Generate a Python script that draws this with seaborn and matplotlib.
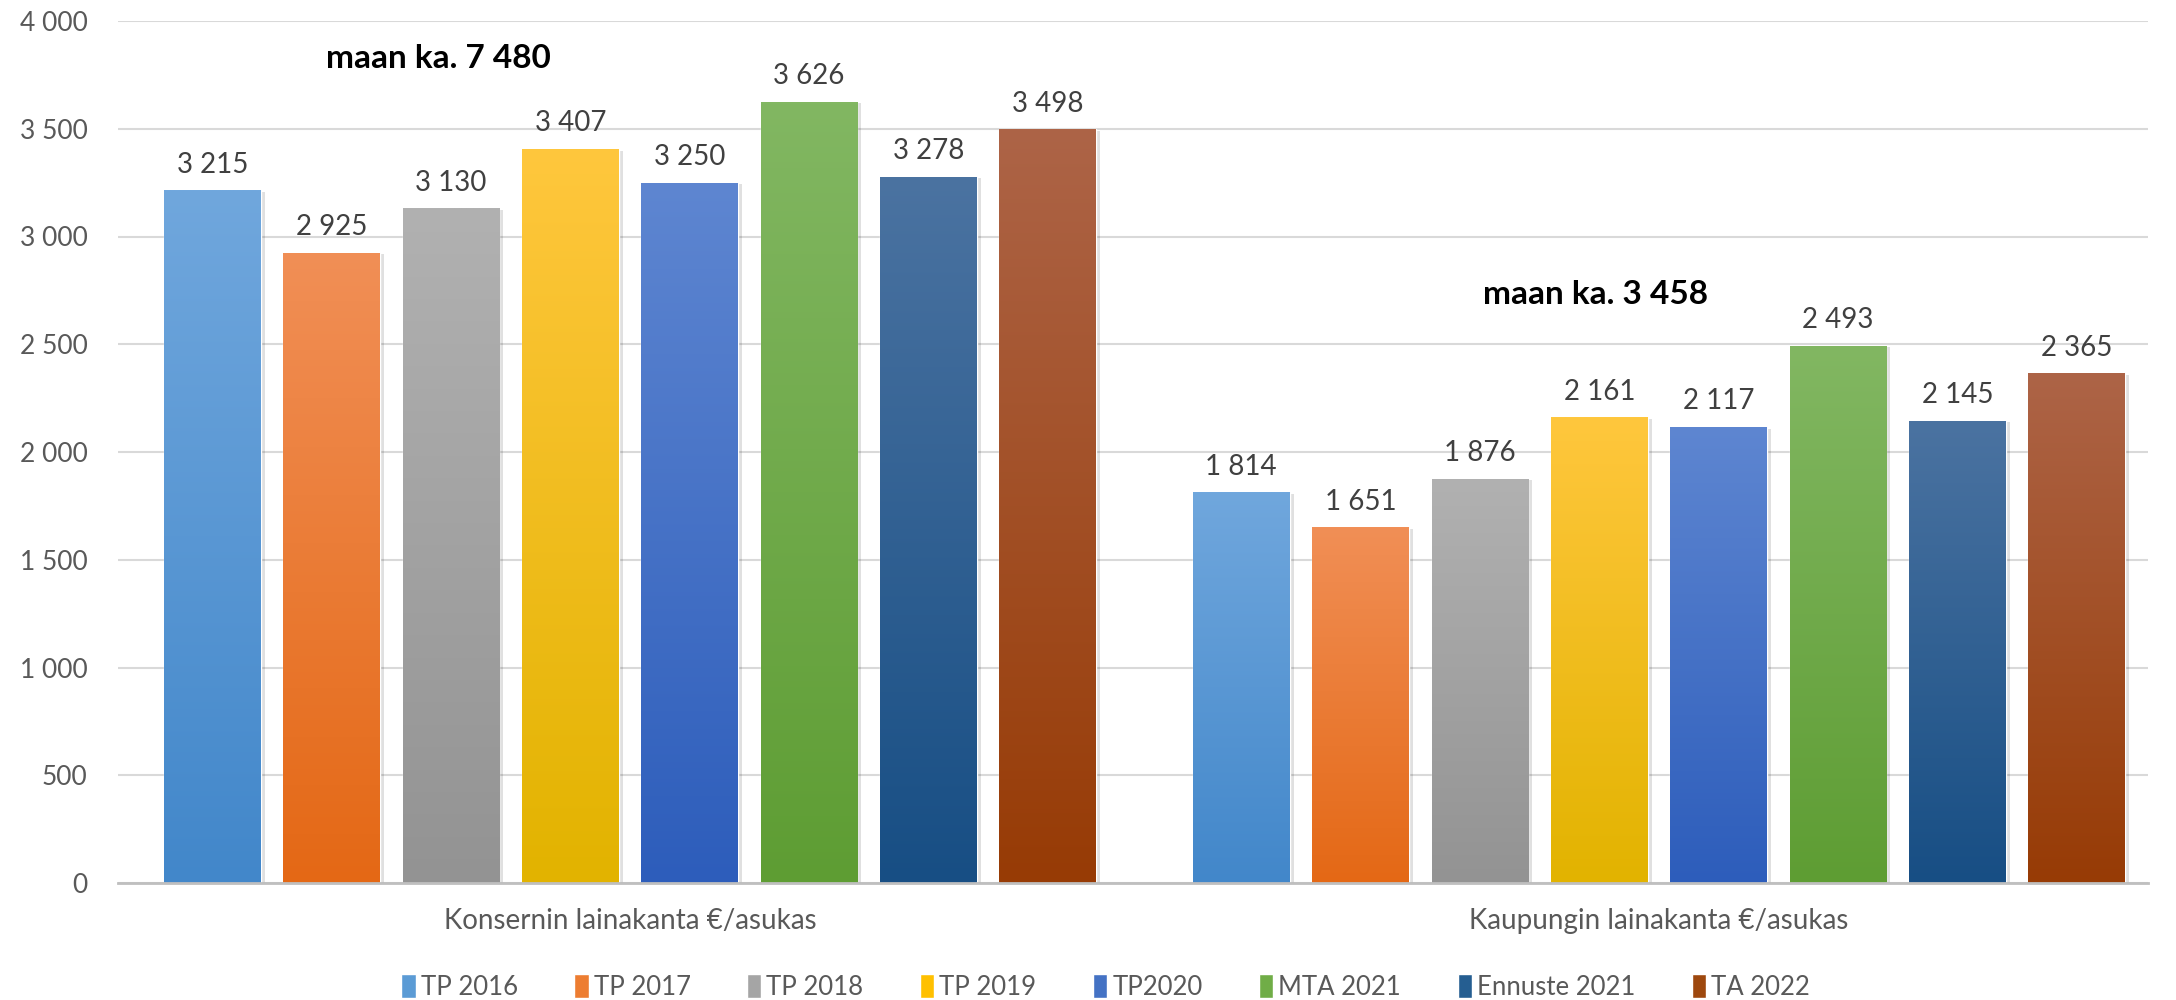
import numpy as np
import pandas as pd
import matplotlib
matplotlib.use('Agg')
from matplotlib import pyplot as plt
from matplotlib.colors import LinearSegmentedColormap
from matplotlib.ticker import FuncFormatter
import seaborn as sns

categories = ['Konsernin lainakanta €/asukas', 'Kaupungin lainakanta €/asukas']
series = ['TP 2016', 'TP 2017', 'TP 2018', 'TP 2019', 'TP2020', 'MTA 2021', 'Ennuste 2021', 'TA 2022']
konserni = [3215, 2925, 3130, 3407, 3250, 3626, 3278, 3498]
kaupunki = [1814, 1651, 1876, 2161, 2117, 2493, 2145, 2365]
averages = ['maan ka. 7 480', 'maan ka. 3 458']

# top / bottom colours of the gradient fill
top_cols = ['#70A7DD', '#F18F56', '#B1B1B1', '#FFC73D', '#5E86D1', '#82B762', '#4B73A1', '#AD6447']
bot_cols = ['#4287CA', '#E46815', '#939393', '#E2B300', '#2D5DBB', '#5E9D33', '#174E84', '#973B05']
mid_cols = ['#5B9BD5', '#ED7D31', '#A5A5A5', '#FFC000', '#4472C4', '#70AD47', '#255E91', '#9E480E']


def main():
    rows = []
    for s, a, b in zip(series, konserni, kaupunki):
        rows.append({'cat': categories[0], 'series': s, 'value': a})
        rows.append({'cat': categories[1], 'series': s, 'value': b})
    df = pd.DataFrame(rows)

    sns.set_theme(style='white')
    plt.rcParams['font.family'] = ['Lato', 'DejaVu Sans']

    fig = plt.figure(figsize=(21.76, 10), dpi=100)
    ax = fig.add_axes([0.0542, 0.117, 0.9330, 0.862])

    sns.barplot(data=df, x='cat', y='value', hue='series', order=categories, hue_order=series,
                palette=dict(zip(series, mid_cols)), width=0.928, gap=0.19, ax=ax,
                errorbar=None, legend=True, saturation=1)

    xlim = (-0.4976, 1.4754)
    ax.set_xlim(*xlim)
    ax.set_ylim(0, 4000)

    # gradient fill on each bar
    grad = np.linspace(0, 1, 256).reshape(-1, 1)
    for i, cont in enumerate(ax.containers):
        cmap = LinearSegmentedColormap.from_list('g%d' % i, [top_cols[i], bot_cols[i]])
        for bar in cont:
            x0, y0 = bar.get_x(), bar.get_y()
            w, h = bar.get_width(), bar.get_height()
            # faint shadow
            ax.add_patch(plt.Rectangle((x0 + 0.004, y0), w, h - 8, color='#000000', alpha=0.12,
                                       zorder=1.5, lw=0))
            im = ax.imshow(grad, cmap=cmap, extent=(x0, x0 + w, y0, y0 + h), aspect='auto',
                           zorder=2, origin='upper')
            im.set_clip_path(bar)
            bar.set_zorder(2)
        ax.bar_label(cont, labels=[f'{v:,.0f}'.replace(',', ' ') for v in cont.datavalues],
                     padding=9, fontsize=20, color='#404040')

    ax.set_xlim(*xlim)
    ax.set_ylim(0, 4000)

    ax.text(-0.186, 3826, averages[0], fontsize=24, fontweight='bold', ha='center', va='center',
            color='black')
    ax.text(0.938, 2731, averages[1], fontsize=24, fontweight='bold', ha='center', va='center',
            color='black')

    ax.set_yticks(np.arange(0, 4001, 500))
    ax.yaxis.set_major_formatter(FuncFormatter(lambda v, p: f'{v:,.0f}'.replace(',', ' ')))
    ax.grid(axis='y', color='#D9D9D9', lw=1.5, zorder=0)
    ax.set_axisbelow(True)
    for s in ['top', 'right', 'left']:
        ax.spines[s].set_visible(False)
    ax.spines['bottom'].set_color('#BFBFBF')
    ax.spines['bottom'].set_linewidth(2)
    ax.tick_params(axis='y', length=0, pad=22, labelsize=19, labelcolor='#595959')
    ax.tick_params(axis='x', length=0, pad=18, labelsize=20, labelcolor='#595959')
    ax.set_xlabel('')
    ax.set_ylabel('')

    handles, labels = ax.get_legend_handles_labels()
    ax.legend(handles, labels, loc='center', bbox_to_anchor=(0.4865, -0.118 / 0.862 * 0.88),
              ncol=8, frameon=False, fontsize=18.5, labelcolor='#595959', handlelength=0.55,
              handleheight=1.1, handletextpad=0.2, columnspacing=2.2)

    fig.savefig('out.png', dpi=100)


if __name__ == '__main__':
    main()
